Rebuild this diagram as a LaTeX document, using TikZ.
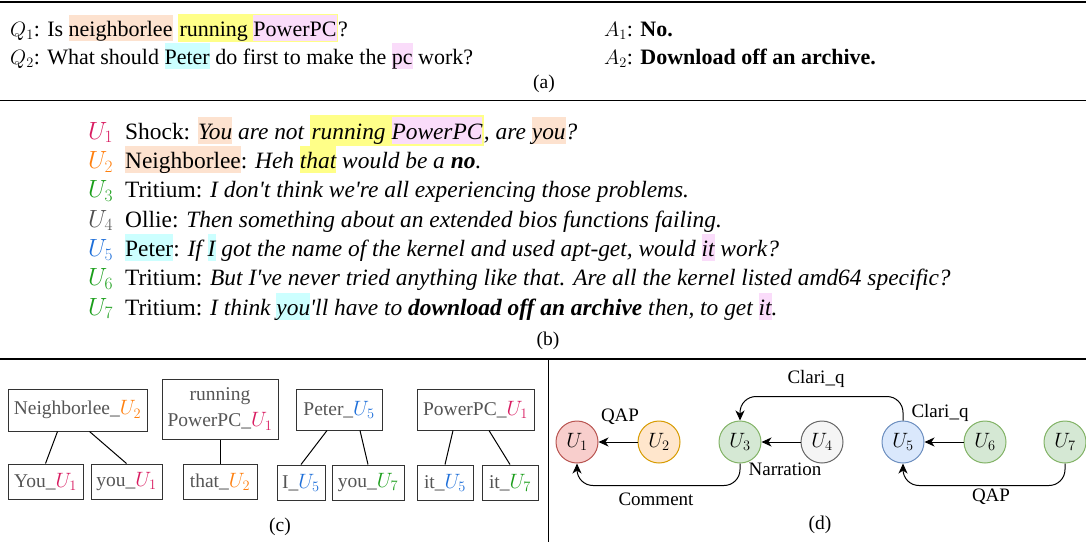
\documentclass[tikz,border=0pt]{standalone}
\usepackage{fontspec}
\setmainfont{Liberation Serif}
\usepackage{xcolor}
\definecolor{hlpeach}{HTML}{FDE2CF}
\definecolor{hlyellow}{HTML}{FFFF88}
\definecolor{hlpink}{HTML}{FADCFA}
\definecolor{hlcyan}{HTML}{CCFFFF}
\definecolor{uone}{HTML}{D81B60}
\definecolor{utwo}{HTML}{FF7F0E}
\definecolor{ugreen}{HTML}{1A9E1A}
\definecolor{ufour}{HTML}{505050}
\definecolor{ufive}{HTML}{1E6FD9}
\definecolor{boxtext}{HTML}{555555}
\definecolor{boxline}{HTML}{333333}
\definecolor{redfill}{HTML}{F8CECC}
\definecolor{redline}{HTML}{B85450}
\definecolor{orfill}{HTML}{FFE6CC}
\definecolor{orline}{HTML}{D79B00}
\definecolor{grfill}{HTML}{D5E8D4}
\definecolor{grline}{HTML}{82B366}
\definecolor{gyfill}{HTML}{F5F5F5}
\definecolor{gyline}{HTML}{666666}
\definecolor{blfill}{HTML}{DAE8FC}
\definecolor{blline}{HTML}{6C8EBF}
\usetikzlibrary{arrows.meta, positioning, calc}
\newcommand{\hlt}[2]{{\setlength{\fboxsep}{0pt}\colorbox{#1}{\rule[-0.22em]{0pt}{1.17em}#2}}}
\newcommand{\hlo}[2]{{\setlength{\fboxsep}{1.5pt}\colorbox{#1}{#2}}}
\newcommand{\ulab}[2]{\textcolor{#1}{$U_{#2}$}}
\newcommand{\ap}{\textquotesingle}
\newcommand{\bodysize}{\fontsize{19.5}{24}\selectfont}
\newcommand{\qasize}{\fontsize{22}{28}\selectfont}
\newcommand{\dialsize}{\fontsize{23.4}{29}\selectfont}

\begin{document}
\begin{tikzpicture}[
  x=1pt, y=-1pt,
  font=\bodysize,
  txt/.style={anchor=base west, inner sep=0pt},
  qa/.style={txt, font=\qasize},
  dial/.style={txt, font=\dialsize},
  subcap/.style={anchor=base, inner sep=0pt},
  cbox/.style={
    draw=boxline, line width=1pt, text=boxtext,
    inner xsep=2pt, inner ysep=2pt, minimum height=35pt
  },
  unode/.style={
    circle, line width=1pt, minimum size=42pt, inner sep=0pt,
    font=\fontsize{20}{22}\selectfont
  },
  rel/.style={-{Stealth[length=10pt,width=9pt,inset=3pt]}, line width=1pt},
  lab/.style={font=\fontsize{19}{21}\selectfont, inner sep=0pt}
]
  \useasboundingbox (0,0) rectangle (1086,542);

  % frame lines
  \draw[line width=1.5pt] (0,2) -- (1086,2);
  \draw[line width=1.2pt] (0,100.5) -- (1086,100.5);
  \draw[line width=1.2pt] (0,359) -- (1086,359);
  \draw[line width=1.2pt] (548.5,359) -- (548.5,542);

  % (a) questions and answers
  \node[qa] (q1) at (10,36)
    {$Q_1$: Is \hlt{hlpeach}{neighborlee} \hlo{hlyellow}{running \hlt{hlpink}{PowerPC}}?};
  \node[qa] (q2) at (10,64)
    {$Q_2$: What should \hlt{hlcyan}{Peter} do first to make the \hlt{hlpink}{pc} work?};
  \node[qa] (a1) at (604,36) {$A_1$: \textbf{No.}};
  \node[qa] (a2) at (604,64) {$A_2$: \textbf{Download off an archive.}};
  \node[subcap] (capa) at (544,88) {(a)};

  % (b) dialogue
  \node[dial] (l1) at (88,139) {\ulab{uone}{1}};
  \node[dial] (t1) at (125,139) {Shock: \itshape \hlt{hlpeach}{You} are not
    \hlo{hlyellow}{running \hlt{hlpink}{PowerPC}}, are \hlt{hlpeach}{you}?};
  \node[dial] (l2) at (88,168.3) {\ulab{utwo}{2}};
  \node[dial] (t2) at (125,168.3) {\hlt{hlpeach}{Neighborlee}: \itshape Heh
    \hlt{hlyellow}{that} would be a \textbf{no}.};
  \node[dial] (l3) at (88,197.7) {\ulab{ugreen}{3}};
  \node[dial] (t3) at (125,197.7) {Tritium: \itshape I don\ap t think we\ap re all
    experiencing those problems.};
  \node[dial] (l4) at (88,227) {\ulab{ufour}{4}};
  \node[dial] (t4) at (125,227) {Ollie: \itshape Then something about an extended
    bios functions failing.};
  \node[dial] (l5) at (88,256.3) {\ulab{ufive}{5}};
  \node[dial] (t5) at (125,256.3) {\hlt{hlcyan}{Peter}: \itshape If \hlt{hlcyan}{I}
    got the name of the kernel and used apt-get, would \hlt{hlpink}{it} work?};
  \node[dial] (l6) at (88,285.7) {\ulab{ugreen}{6}};
  \node[dial] (t6) at (125,285.7) {Tritium: \itshape But I\ap ve never tried anything
    like that. Are all the kernel listed amd64 specific?};
  \node[dial] (l7) at (88,315) {\ulab{ugreen}{7}};
  \node[dial] (t7) at (125,315) {Tritium: \itshape I think \hlt{hlcyan}{you}\ap ll
    have to \textbf{download off an archive} then, to get \hlt{hlpink}{it}.};
  \node[subcap] (capb) at (548,345) {(b)};

  % (c) coreference clusters
  \node[cbox, minimum width=139pt, minimum height=42pt] (nb) at (77.5,410)
    {Neighborlee\_\ulab{utwo}{2}};
  \node[cbox, minimum width=75pt] (you1) at (45.5,481.5) {You\_\ulab{uone}{1}};
  \node[cbox, minimum width=71pt] (you2) at (126.5,481.5) {you\_\ulab{uone}{1}};
  \node[cbox, minimum width=116pt, minimum height=60pt, align=center] (rp)
    at (220,409) {running\\[2pt]PowerPC\_\ulab{uone}{1}};
  \node[cbox, minimum width=74pt] (that) at (220,481.5) {that\_\ulab{utwo}{2}};
  \node[cbox, minimum width=86pt, minimum height=41pt] (pe) at (339,409.5)
    {Peter\_\ulab{ufive}{5}};
  \node[cbox, minimum width=48pt] (iu) at (301,482.5) {I\_\ulab{ufive}{5}};
  \node[cbox, minimum width=72pt] (you7) at (368,482.5) {you\_\ulab{ugreen}{7}};
  \node[cbox, minimum width=117pt, minimum height=41pt] (pp) at (475.5,409.5)
    {PowerPC\_\ulab{uone}{1}};
  \node[cbox, minimum width=56pt] (it5) at (445,482.5) {it\_\ulab{ufive}{5}};
  \node[cbox, minimum width=56pt] (it7) at (510,482.5) {it\_\ulab{ugreen}{7}};
  \draw[line width=1pt] ([xshift=-20pt]nb.south) -- (you1.north);
  \draw[line width=1pt] ([xshift=12pt]nb.south) -- (you2.north);
  \draw[line width=1pt] (rp.south) -- (that.north);
  \draw[line width=1pt] ([xshift=-12pt]pe.south) -- (iu.north);
  \draw[line width=1pt] ([xshift=21pt]pe.south) -- (you7.north);
  \draw[line width=1pt] ([xshift=-22.5pt]pp.south) -- (it5.north);
  \draw[line width=1pt] ([xshift=13.5pt]pp.south) -- (it7.north);
  \node[subcap] (capc) at (280,531) {(c)};

  % (d) discourse graph
  \node[unode, fill=redfill, draw=redline] (u1) at (577,442) {$U_1$};
  \node[unode, fill=orfill, draw=orline] (u2) at (659,442) {$U_2$};
  \node[unode, fill=grfill, draw=grline] (u3) at (740,442) {$U_3$};
  \node[unode, fill=gyfill, draw=gyline] (u4) at (822,442) {$U_4$};
  \node[unode, fill=blfill, draw=blline] (u5) at (903,442) {$U_5$};
  \node[unode, fill=grfill, draw=grline] (u6) at (985,442) {$U_6$};
  \node[unode, fill=grfill, draw=grline] (u7) at (1065,442) {$U_7$};
  \draw[rel] (u2) -- (u1);
  \draw[rel] (u4) -- (u3);
  \draw[rel] (u6) -- (u5);
  \draw[rel, rounded corners=16pt] (u3.south) -- ++(0,22) -| (u1.south);
  \draw[rel, rounded corners=16pt] (u7.south) -- ++(0,22) -| (u5.south);
  \draw[rel, rounded corners=16pt] (u5.north) -- ++(0,-24) -| (u3.north);
  \node[lab] (lqap) at (620,417) {QAP};
  \node[lab] (lnar) at (785,469) {Narration};
  \node[lab] (lcom) at (656,499) {Comment};
  \node[lab] (lclt) at (816,379) {Clari\_q};
  \node[lab] (lcls) at (940,413) {Clari\_q};
  \node[lab] (lqab) at (991,497) {QAP};
  \node[subcap] (capd) at (820,529) {(d)};
\end{tikzpicture}
\end{document}
